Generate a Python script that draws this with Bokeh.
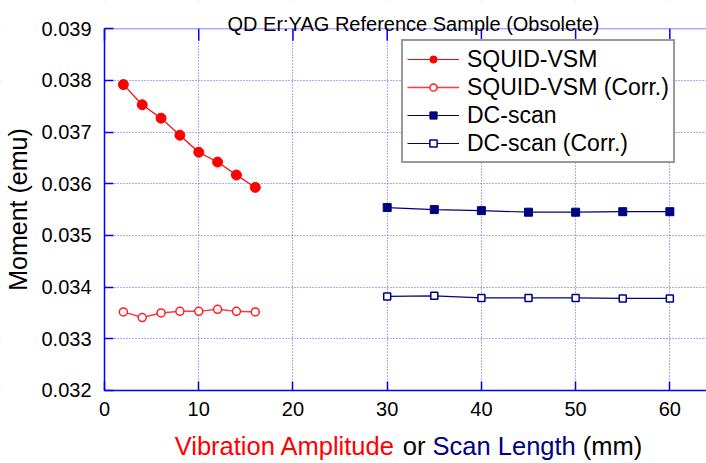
from bokeh.plotting import figure
from bokeh.models import (Range1d, FixedTicker, PrintfTickFormatter, Legend, LegendItem,
                          Label, BoxAnnotation)
from bokeh.embed import file_html
from bokeh.resources import INLINE

# ---- data ----
vsm_x = [2, 4, 6, 8, 10, 12, 14, 16]
vsm_y = [0.03792, 0.03753, 0.03727, 0.03694, 0.03661, 0.03642, 0.03617, 0.03593]
vsm_corr_y = [0.03352, 0.03341, 0.03350, 0.03353, 0.03353, 0.03357, 0.03353, 0.03352]
dc_x = [30, 35, 40, 45, 50, 55, 60]
dc_y = [0.03554, 0.03550, 0.03548, 0.03545, 0.03545, 0.03546, 0.03546]
dc_corr_y = [0.03382, 0.03383, 0.03379, 0.03379, 0.03379, 0.03378, 0.03378]

x_ticks = [0, 10, 20, 30, 40, 50, 60]
y_ticks = [0.032, 0.033, 0.034, 0.035, 0.036, 0.037, 0.038, 0.039]
x_min = 0
y_min, y_max = 0.032, 0.039
series_names = ["SQUID-VSM", "SQUID-VSM (Corr.)", "DC-scan", "DC-scan (Corr.)"]
title_text = "QD Er:YAG Reference Sample (Obsolete)"
xlabel_parts = ["Vibration Amplitude", "or", "Scan Length", "(mm)"]
xlabel_colors = ["#ff0000", "#000000", "#000080", "#000000"]

FONT = "Liberation Sans"
AXIS_BLUE = "#0000ff"
W, H = 706, 463

# The frame covers the whole canvas; axes sit at fixed data locations inside it.
X_START, X_END = -11.04, 63.89
Y_START, Y_END = 0.030585, 0.039548
PX_PER_Y = H / (Y_END - Y_START)
TOP_TICK = 12 / PX_PER_Y   # 12 px inward tick length, in data units

p = figure(width=W, height=H, output_backend="svg", toolbar_location=None,
           x_range=Range1d(X_START, X_END), y_range=Range1d(Y_START, Y_END),
           min_border=0)
p.outline_line_color = None
p.background_fill_color = "white"
p.border_fill_color = "white"

# axes
xa = p.xaxis[0]
ya = p.yaxis[0]
xa.fixed_location = y_min
ya.fixed_location = x_min
xa.bounds = (x_min, X_END)
ya.bounds = (y_min, y_max)
xa.ticker = FixedTicker(ticks=x_ticks)
ya.ticker = FixedTicker(ticks=y_ticks)
ya.formatter = PrintfTickFormatter(format="%.3f")
for ax in (xa, ya):
    ax.axis_line_color = AXIS_BLUE
    ax.axis_line_width = 1.5
    ax.major_tick_line_color = AXIS_BLUE
    ax.major_tick_line_width = 1.5
    ax.major_tick_in = 9
    ax.major_tick_out = 0
    ax.minor_tick_line_color = None
    ax.major_label_text_font = FONT
    ax.major_label_text_font_size = "20px"
    ax.major_label_text_color = "black"
xa.major_label_standoff = 12
ya.major_label_standoff = 13
ya.axis_label = "Moment (emu)"
ya.axis_label_text_font = FONT
ya.axis_label_text_font_size = "25px"
ya.axis_label_text_font_style = "normal"
ya.axis_label_text_color = "black"
ya.axis_label_standoff = 6

# grid
for g in (p.xgrid[0], p.ygrid[0]):
    g.grid_line_color = "#3030ff"
    g.grid_line_alpha = 0.8
    g.grid_line_dash = "1 2"
    g.grid_line_width = 1
p.xgrid[0].ticker = FixedTicker(ticks=x_ticks)
p.ygrid[0].ticker = FixedTicker(ticks=y_ticks)

# white covers outside the plotting area (hide grid lines there)
for kw in (dict(top=y_min), dict(right=x_min), dict(bottom=y_max)):
    p.add_layout(BoxAnnotation(fill_color="white", fill_alpha=1.0, line_color=None,
                               level="underlay", **kw))

# top border line and its inward ticks
p.add_layout(BoxAnnotation(bottom=y_max, top=y_max, left=x_min, fill_alpha=0,
                           line_color=AXIS_BLUE, line_width=1.5, level="underlay"))
p.segment(x0=x_ticks, y0=[y_max] * len(x_ticks), x1=x_ticks,
          y1=[y_max - TOP_TICK] * len(x_ticks), line_color=AXIS_BLUE, line_width=1.5)

# series
l1 = p.line(vsm_x, vsm_y, line_color="#ff0000", line_width=1.2)
m1 = p.scatter(vsm_x, vsm_y, marker="circle", size=10, fill_color="#ff0000",
               line_color="#ff0000")
l2 = p.line(vsm_x, vsm_corr_y, line_color="#ff3a3a", line_width=1.5)
m2 = p.scatter(vsm_x, vsm_corr_y, marker="circle", size=8, fill_color="white",
               line_color="#ff2020", line_width=1.5)
l3 = p.line(dc_x, dc_y, line_color="#000080", line_width=1.2)
m3 = p.scatter(dc_x, dc_y, marker="square", size=8, fill_color="#000080",
               line_color="#000080")
l4 = p.line(dc_x, dc_corr_y, line_color="#000080", line_width=1.2)
m4 = p.scatter(dc_x, dc_corr_y, marker="square", size=7, fill_color="white",
               line_color="#000080", line_width=1.5)

legend = Legend(items=[
    LegendItem(label=series_names[0], renderers=[l1, m1]),
    LegendItem(label=series_names[1], renderers=[l2, m2]),
    LegendItem(label=series_names[2], renderers=[l3, m3]),
    LegendItem(label=series_names[3], renderers=[l4, m4]),
], location=(401, 300))
legend.label_text_font = FONT
legend.label_text_font_size = "23px"
legend.label_text_color = "black"
legend.label_height = 28
legend.glyph_height = 18
legend.glyph_width = 52
legend.label_standoff = 8
legend.spacing = 0
legend.padding = 4
legend.margin = 0
legend.border_line_color = "#333333"
legend.border_line_width = 2
legend.background_fill_color = "white"
legend.background_fill_alpha = 1.0
p.add_layout(legend, "center")

# title
p.add_layout(Label(x=413, y=H - 23.5, x_units="screen", y_units="screen",
                   text=title_text, text_font=FONT, text_font_size="20px",
                   text_align="center", text_baseline="alphabetic", text_color="black"))

# multi-coloured x-axis label
fs = 25.5
space_em = 0.278
widths_em = [8.67, 0.889, 5.615, 2.332]
total = (sum(widths_em) + space_em * (len(widths_em) - 1)) * fs
x0 = 408 - total / 2
for part, col, w in zip(xlabel_parts, xlabel_colors, widths_em):
    p.add_layout(Label(x=x0, y=18, x_units="screen", y_units="screen", text=part,
                       text_font=FONT, text_font_size=f"{fs}px", text_align="left",
                       text_baseline="alphabetic", text_color=col))
    x0 += (w + space_em) * fs

open("out.html", "w").write(file_html(p, INLINE))
